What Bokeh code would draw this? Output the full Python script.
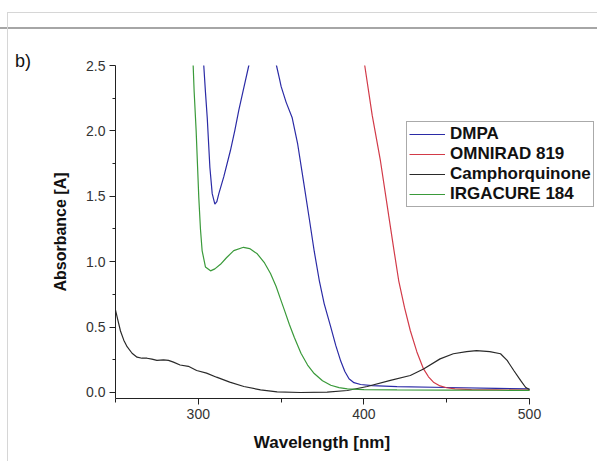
from bokeh.plotting import figure
from bokeh.models import Range1d, FixedTicker, Legend, LegendItem, Div, CustomJSTickFormatter
from bokeh.layouts import column, row
from bokeh.embed import file_html
from bokeh.resources import INLINE

# ---- data ----
dmpa_wl = [302.5, 303.3, 304.3, 305.4, 307.0, 308.4, 310.0, 311.2, 312.4, 315.4, 319.4, 322.0, 324.5, 327.5, 330.5, 332.0,
           345.5, 347.2, 349.0, 350.0, 353.0, 356.7, 360.0, 363.7, 367.0, 370.0, 373.0, 376.0, 380.0, 383.0, 386.0,
           388.5, 391.0, 394.0, 398.0, 405.0, 420.0, 450.0, 480.0, 500.0]
dmpa_a = [2.62, 2.50, 2.30, 2.10, 1.72, 1.52, 1.44, 1.46, 1.52, 1.65, 1.85, 2.00, 2.16, 2.33, 2.50, 2.60,
          2.62, 2.50, 2.40, 2.34, 2.22, 2.10, 1.90, 1.60, 1.33, 1.08, 0.86, 0.68, 0.50, 0.36, 0.24,
          0.16, 0.105, 0.075, 0.061, 0.052, 0.045, 0.038, 0.032, 0.028]

omni_wl = [399.5, 400.5, 405.0, 410.0, 415.0, 418.0, 421.0, 424.5, 428.0, 432.0, 436.0, 439.0, 442.0, 446.0, 450.0,
           455.0, 465.0, 480.0, 500.0]
omni_a = [2.60, 2.50, 2.12, 1.77, 1.35, 1.10, 0.856, 0.65, 0.474, 0.31, 0.18, 0.12, 0.079, 0.050, 0.036,
          0.028, 0.022, 0.020, 0.018]

cq_wl = [250.0, 251.5, 253.0, 255.0, 257.0, 260.0, 263.0, 266.0, 269.0, 272.0, 275.0, 279.0, 282.0, 285.0, 289.0,
         294.0, 299.0, 305.0, 311.0, 319.0, 327.5, 337.6, 347.6, 361.7, 377.8, 390.0, 402.0, 416.0, 428.0, 436.0,
         446.0, 454.0, 462.0, 468.0, 476.0, 482.5, 486.5, 490.5, 494.6, 497.6, 500.0]
cq_a = [0.63, 0.55, 0.47, 0.40, 0.35, 0.30, 0.27, 0.262, 0.262, 0.255, 0.245, 0.25, 0.245, 0.232, 0.21,
        0.20, 0.168, 0.148, 0.117, 0.079, 0.046, 0.020, 0.005, 0.000, 0.002, 0.015, 0.046, 0.092, 0.13, 0.18,
        0.257, 0.296, 0.313, 0.32, 0.313, 0.296, 0.245, 0.168, 0.092, 0.040, 0.020]

irg_wl = [296.6, 297.5, 298.7, 300.3, 301.3, 302.3, 304.3, 307.4, 310.0, 313.4, 317.0, 321.4, 327.3, 331.0, 335.6,
          340.0, 343.6, 347.0, 349.6, 352.0, 355.0, 358.0, 362.0, 366.0, 370.0, 375.0, 380.0, 385.0, 390.0, 400.0,
          420.0, 450.0, 480.0, 500.0]
irg_a = [2.60, 2.30, 2.00, 1.49, 1.25, 1.085, 0.96, 0.93, 0.945, 0.98, 1.03, 1.085, 1.11, 1.10, 1.06,
         0.99, 0.91, 0.81, 0.716, 0.63, 0.52, 0.42, 0.30, 0.21, 0.145, 0.09, 0.055, 0.037, 0.028, 0.022,
         0.020, 0.018, 0.017, 0.016]

series_names = ["DMPA", "OMNIRAD 819", "Camphorquinone", "IRGACURE 184"]
series_colors = ["#2b2ba6", "#d23a48", "#2a2a2a", "#3a9a3a"]

x_major = [300, 400, 500]
x_minor = [250, 350, 450]
y_major = [0.0, 0.5, 1.0, 1.5, 2.0, 2.5]
y_minor = [0.25, 0.75, 1.25, 1.75, 2.25]

panel_label = "b)"
x_title = "Wavelength [nm]"
y_title = "Absorbance [A]"

FONT = "Liberation Sans"
FRAME = "#d6d6d6"

# decorative page frame of the cropped figure panel (top strip)
top_div = Div(width=597, height=30, margin=0, text=(
    '<div style="position:relative;width:597px;height:30px;margin:0;padding:0;overflow:hidden">'
    f'<div style="position:absolute;left:7px;top:12px;width:590px;height:1px;background:{FRAME}"></div>'
    '<div style="position:absolute;left:0px;top:27px;width:597px;height:2px;background:#a6a6a6"></div>'
    f'<div style="position:absolute;left:7px;top:12px;width:1px;height:18px;background:{FRAME}"></div>'
    '</div>'))

# left strip with the panel letter
left_div = Div(width=40, height=398, margin=0, text=(
    '<div style="position:relative;width:40px;height:398px;margin:0;padding:0;overflow:hidden">'
    f'<div style="position:absolute;left:7px;top:0px;width:1px;height:398px;background:{FRAME}"></div>'
    f'<div style="position:absolute;left:15px;top:22px;font-family:\'{FONT}\';font-size:18px;'
    f'line-height:18px;color:#111111;white-space:nowrap">{panel_label}</div>'
    '</div>'))

# bottom strip with the x-axis title (centred under the 250-500 axis)
bottom_div = Div(width=597, height=33, margin=0, text=(
    '<div style="position:relative;width:597px;height:33px;margin:0;padding:0;overflow:hidden">'
    f'<div style="position:absolute;left:7px;top:0px;width:1px;height:33px;background:{FRAME}"></div>'
    f'<div style="position:absolute;left:222px;top:6px;width:200px;text-align:center;font-family:\'{FONT}\';'
    f'font-weight:bold;font-size:17px;line-height:17px;color:#111111;white-space:nowrap">{x_title}</div>'
    '</div>'))

p = figure(width=557, height=398, output_backend="svg", toolbar_location=None,
           x_range=Range1d(250, 541.06), y_range=Range1d(-0.046, 2.5),
           min_border_left=75, min_border_right=0, min_border_top=35, min_border_bottom=30, margin=0)
p.background_fill_color = "white"
p.border_fill_color = "white"
p.outline_line_color = None
p.xgrid.visible = False
p.ygrid.visible = False

renderers = []
for wl, a, col in [(dmpa_wl, dmpa_a, series_colors[0]), (omni_wl, omni_a, series_colors[1]),
                   (cq_wl, cq_a, series_colors[2]), (irg_wl, irg_a, series_colors[3])]:
    r = p.line(wl, a, line_color=col, line_width=1.2)
    renderers.append(r)

for ax in (p.xaxis[0], p.yaxis[0]):
    ax.axis_line_color = "#222222"
    ax.major_tick_line_color = "#222222"
    ax.minor_tick_line_color = "#222222"
    ax.major_tick_in = 0
    ax.minor_tick_in = 0
    ax.major_label_text_font = FONT
    ax.major_label_text_font_size = "14px"
    ax.major_label_text_color = "#333333"
    ax.axis_label_text_font = FONT
    ax.axis_label_text_font_style = "bold"
    ax.axis_label_text_color = "#111111"

p.xaxis.bounds = (250, 500)
p.xaxis.ticker = FixedTicker(ticks=x_major, minor_ticks=x_minor)
p.yaxis.ticker = FixedTicker(ticks=y_major, minor_ticks=y_minor)
p.xaxis.major_tick_out = 6
p.xaxis.minor_tick_out = 4
p.yaxis.major_tick_out = 6
p.yaxis.minor_tick_out = 3
p.xaxis.major_label_standoff = 4
p.yaxis.major_label_standoff = 4
p.yaxis.formatter = CustomJSTickFormatter(code="return tick.toFixed(1);")
p.yaxis.axis_label = y_title
p.yaxis.axis_label_text_font_size = "16px"
p.yaxis.axis_label_standoff = 14

legend = Legend(items=[LegendItem(label=n, renderers=[r]) for n, r in zip(series_names, renderers)],
                location=(291, 191), orientation="vertical")
legend.label_text_font = FONT
legend.label_text_font_style = "bold"
legend.label_text_font_size = "17px"
legend.label_text_color = "#111111"
legend.border_line_color = "#555555"
legend.border_line_width = 1
legend.background_fill_color = "white"
legend.background_fill_alpha = 1
legend.padding = 2
legend.spacing = 0
legend.margin = 0
legend.glyph_width = 36
legend.glyph_height = 18
legend.label_height = 18
legend.label_standoff = 5
p.add_layout(legend, "center")

layout = column(top_div, row(left_div, p, margin=0, spacing=0), bottom_div, margin=0, spacing=0)

open("out.html", "w").write(file_html(layout, INLINE))
